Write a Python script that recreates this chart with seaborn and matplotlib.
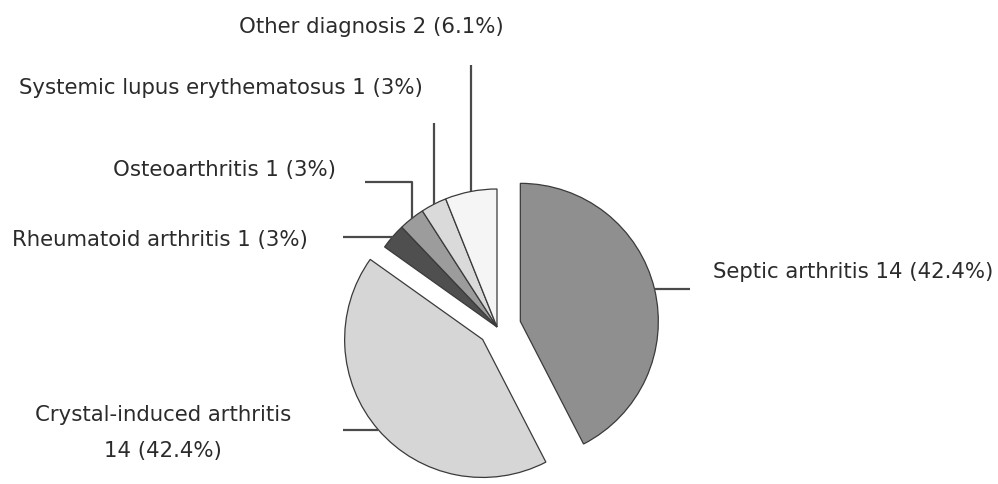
import matplotlib
matplotlib.use('Agg')
import matplotlib.pyplot as plt
import seaborn as sns
import numpy as np

# Diagnosis counts (n = 33)
diagnoses = ['Septic arthritis', 'Crystal-induced arthritis', 'Rheumatoid arthritis',
             'Osteoarthritis', 'Systemic lupus erythematosus', 'Other diagnosis']
counts = [14, 14, 1, 1, 1, 2]
percents = ['42.4%', '42.4%', '3%', '3%', '3%', '6.1%']

grays = ['#8f8f8f', '#d6d6d6', '#4f4f4f', '#9c9c9c', '#dadada', '#f5f5f5']
explode = [24, 19, 0, 0, 0, 0]  # offsets in pixels (pie explode is absolute)

W, H = 998, 484

sns.set_theme(style='white')
plt.rcParams['font.family'] = ['DejaVu Sans']

fig = plt.figure(figsize=(W / 100, H / 100), dpi=100)
ax = fig.add_axes([0, 0, 1, 1])


def py(y):
    # pixel row (top down) -> data y (bottom up)
    return H - y


wedges, _ = ax.pie(counts, colors=grays, explode=explode, startangle=90, counterclock=False,
                   radius=138, center=(497, py(327)), frame=True,
                   wedgeprops=dict(edgecolor='#3a3a3a', linewidth=0.9))

ax.set_xlim(0, W)
ax.set_ylim(0, H)
ax.set_aspect('equal')
ax.axis('off')

# leader line routes: extra points after the wedge anchor (pixel coords)
routes = [
    [(690, None)],
    [(343, None)],
    [(343, None)],
    [(None, 182), (365, 182)],
    [(None, 123)],
    [(None, 65)],
]
label_pos = [
    (713, 272, 'left'),
    (163, 433, 'center'),
    (160, 240, 'center'),
    (225, 170, 'center'),
    (221, 88, 'center'),
    (371, 27, 'center'),
]

for w, route, name, c, p, (tx, ty, ha) in zip(wedges, routes, diagnoses, counts, percents, label_pos):
    mid = np.deg2rad((w.theta1 + w.theta2) / 2)
    ax0 = w.center[0] + w.r * np.cos(mid)
    ay0 = w.center[1] + w.r * np.sin(mid)
    xs, ys = [ax0], [ay0]
    for rx, ry in route:
        xs.append(xs[-1] if rx is None else rx)
        ys.append(ys[-1] if ry is None else py(ry))
    ax.plot(xs, ys, color='#4a4a4a', lw=1.6, solid_capstyle='butt')
    if name == 'Crystal-induced arthritis':
        txt = f'{name}\n{c} ({p})'
    else:
        txt = f'{name} {c} ({p})'
    ax.text(tx, py(ty), txt, ha=ha, va='center', fontsize=15.3, color='#2b2b2b',
            linespacing=1.95)

fig.savefig('out.png', dpi=100)
